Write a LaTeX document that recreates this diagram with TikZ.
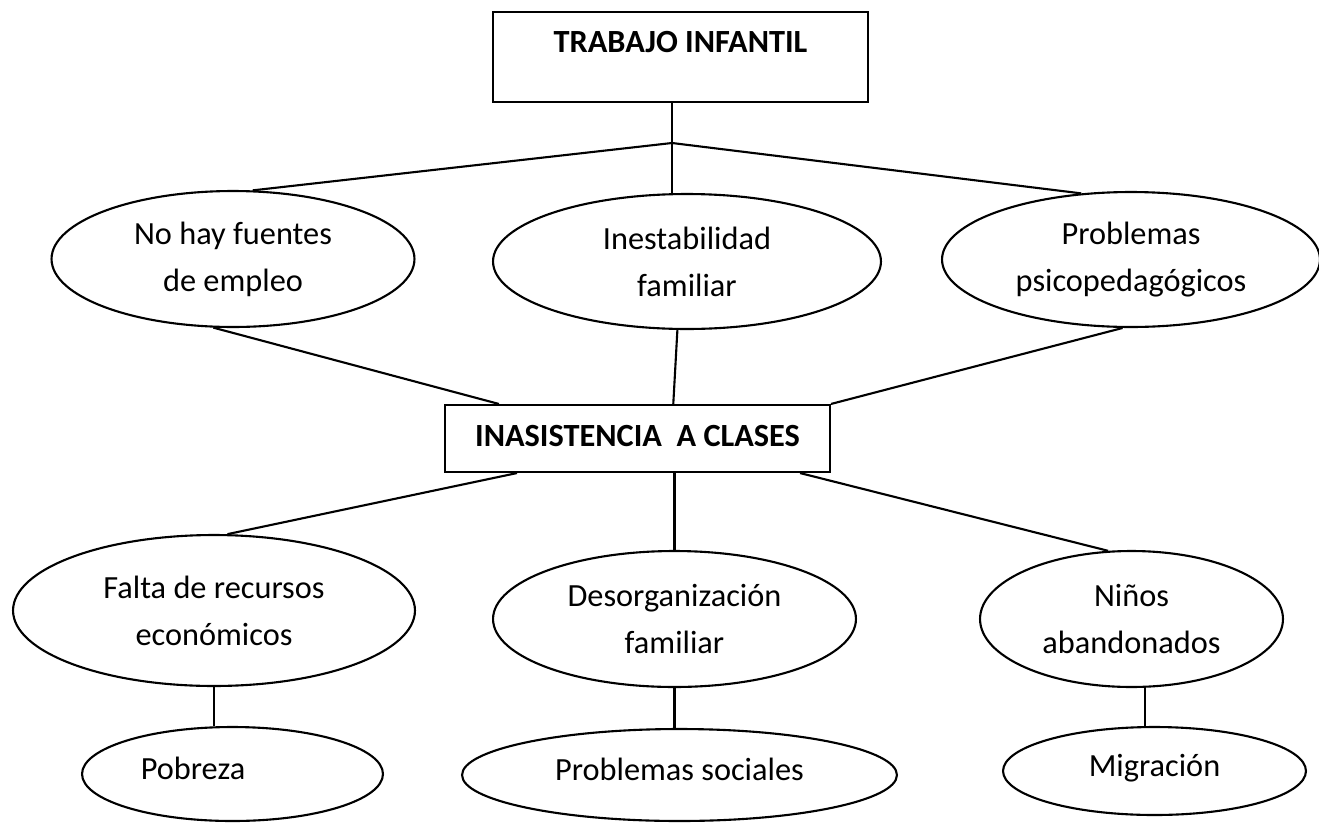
\documentclass[tikz,border=0pt]{standalone}
\usepackage{fontspec}
\setmainfont{Carlito}
\usetikzlibrary{shapes.geometric}
\begin{document}
\begin{tikzpicture}[x=0.02cm, y=-0.02cm, line width=1.2pt,
    every node/.append style={font=\fontsize{18.4}{26.8}\selectfont},
    caja/.style={draw, rectangle, inner sep=0pt, font=\fontsize{18.4}{26.8}\selectfont\bfseries},
    elipse/.style={draw, ellipse, inner sep=0pt, align=center},
    hoja/.style={draw, ellipse, inner sep=0pt, text height=0.4cm, text depth=0.2cm}]
\useasboundingbox (0,0) rectangle (1319,822);
% cajas
\node[caja, minimum width=7.5cm, minimum height=1.8cm, text height=0.38cm, text depth=0.58cm] (tit) at (680.5,57) {TRABAJO INFANTIL};
\node[caja, minimum width=7.7cm, minimum height=1.34cm, text height=0.38cm, text depth=0.06cm] (ina) at (637.5,438.5) {INASISTENCIA\ \ A CLASES};
% causas
\node[elipse, minimum width=7.26cm, minimum height=2.72cm] (noh) at (233,259) {No hay fuentes\\de empleo};
\node[elipse, minimum width=7.76cm, minimum height=2.7cm] (ines) at (687,261.5) {Inestabilidad\\familiar};
\node[elipse, minimum width=7.56cm, minimum height=2.7cm] (psi) at (1131,259.5) {Problemas\\psicopedagógicos};
% consecuencias
\node[elipse, minimum width=8.04cm, minimum height=3.02cm] (fal) at (214,610.5) {Falta de recursos\\económicos};
\node[elipse, minimum width=7.26cm, minimum height=2.72cm] (des) at (674.5,619) {Desorganización\\familiar};
\node[elipse, minimum width=6.06cm, minimum height=2.72cm] (nin) at (1131.5,619) {Niños\\abandonados};
\node[hoja, minimum width=6.02cm, minimum height=1.88cm] (pob) at (232.5,774) {Pobreza\hspace*{1.58cm}};
\node[hoja, minimum width=8.7cm, minimum height=1.84cm] (soc) at (679.5,775) {Problemas sociales};
\node[hoja, minimum width=6.06cm, minimum height=1.76cm] (mig) at (1154.5,771) {Migración};
% lineas
\coordinate (j) at (672,143);
\draw (tit.south -| j) -- (j |- ines.north);
\draw (noh.74) -- (j) -- (psi.127);
\foreach \a/\b in {noh.254/ina.166, ines.262/ina.44, psi.263/ina.north east, ina.196/fal.80, ina.-12/nin.109}
{
    \draw (\a) -- (\b);
}
\draw (des.north |- ina.south) -- (des.north);
\foreach \a/\b in {fal.south/pob, des.south/soc, nin.281/mig}
{
    \draw (\a) -- (\a |- \b.north);
}
\end{tikzpicture}
\end{document}
